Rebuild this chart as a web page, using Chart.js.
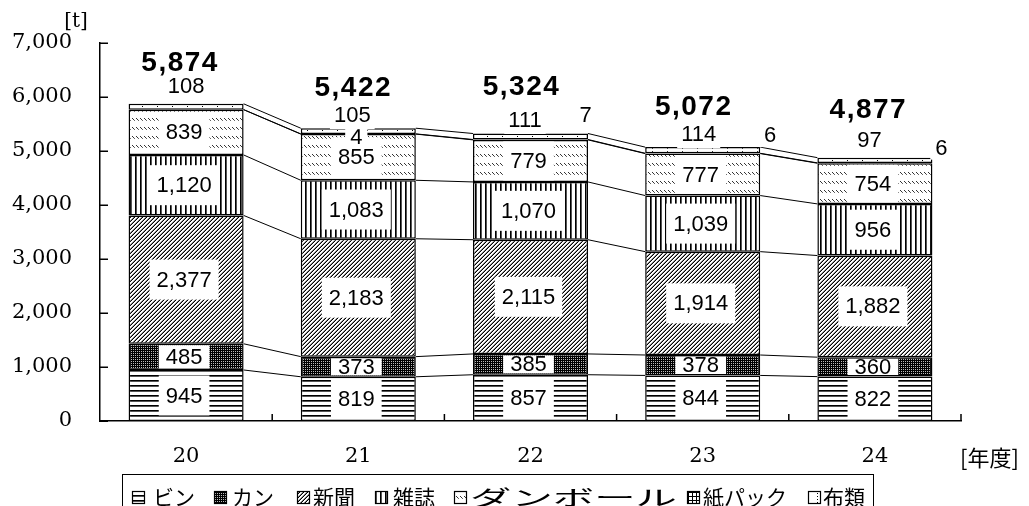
<!DOCTYPE html>
<html><head><meta charset="utf-8">
<script src="https://cdn.jsdelivr.net/npm/chart.js@4"></script>
<style>html,body{margin:0;padding:0;background:#fff}#wrap{width:1029px;height:506px;overflow:hidden}</style>
</head><body><div id="wrap"><canvas id="c" width="1029" height="506"></canvas></div>
<script>
// ---- data ----
const categories = ['20', '21', '22', '23', '24'];
const seriesNames = ['ビン', 'カン', '新聞', '雑誌', 'ダンボール', '紙パック', '布類'];
const bin      = [945, 819, 857, 844, 822];
const kan      = [485, 373, 385, 378, 360];
const shinbun  = [2377, 2183, 2115, 1914, 1882];
const zasshi   = [1120, 1083, 1070, 1039, 956];
const danboru  = [839, 855, 779, 777, 754];
const kamipack = [null, 4, 7, 6, 6];
const nurui    = [108, 105, 111, 114, 97];
const totals   = [5874, 5422, 5324, 5072, 4877];
const yTickValues = [0, 1000, 2000, 3000, 4000, 5000, 6000, 7000];
const seriesData = [bin, kan, shinbun, zasshi, danboru, kamipack, nurui];

// ---- style config (positions / nudges, not data) ----
const style = {
  innerDx: -2,
  topDx: [0, -6, -5.5, -4, -5.5],
  topDy: [-17.5, -13, -13.5, -13, -18],
  packPlace: [null, {mode: 'center', dx: -2, dy: 3}, {mode: 'right', dx: -2.5, dy: -18.5},
              {mode: 'right', dx: 10, dy: -12}, {mode: 'right', dx: 9, dy: -10}],
  totalDx: [-6, -5, -9, -9, -6.5],
  totalDy: [-41.5, -40.5, -47.5, -41, -48.5],
  legendIconX: [132, 214, 297, 375, 454, 687, 808],
  legendTextX: [153, 232, 313, 393, 470, 703, 823],
  legendTextW: [35, 38, 44, 44, 207, 94, 43]
};

const canvas = document.getElementById('c');
const mainCtx = canvas.getContext('2d');

function makePattern(w, h, draw) {
  const c = document.createElement('canvas');
  c.width = w; c.height = h;
  const g = c.getContext('2d');
  g.fillStyle = '#fff'; g.fillRect(0, 0, w, h);
  draw(g);
  return mainCtx.createPattern(c, 'repeat');
}
function px(g, x, y, col) { g.fillStyle = col; g.fillRect(x, y, 1, 1); }

const patterns = [
  // ビン: horizontal lines
  makePattern(1, 5, g => { px(g, 0, 0, '#000'); px(g, 0, 1, '#555'); }),
  // カン: dense dark grid
  makePattern(2, 2, g => { px(g, 0, 0, '#000'); px(g, 1, 0, '#000'); px(g, 0, 1, '#000'); px(g, 1, 1, '#bbb'); }),
  // 新聞: forward diagonal
  makePattern(4, 4, g => { for (let k = 0; k < 4; k++) { px(g, 3 - k, k, '#000'); px(g, (6 - k) % 4, k, '#888'); } }),
  // 雑誌: vertical lines
  makePattern(5, 1, g => { px(g, 0, 0, '#000'); px(g, 1, 0, '#555'); }),
  // ダンボール: short back-slash dashes
  makePattern(4, 9, g => { px(g, 0, 1, '#333'); px(g, 1, 2, '#333'); px(g, 2, 3, '#666'); }),
  // 紙パック: grid
  makePattern(4, 4, g => { for (let k = 0; k < 4; k++) { px(g, k, 0, '#000'); px(g, 0, k, '#000'); } }),
  // 布類: sparse dots
  makePattern(15, 3, g => { px(g, 7, 1, '#000'); })
];

const fmt = v => v.toLocaleString('en-US');
const LABEL_FONT = '22px "Liberation Sans", Arial, sans-serif';
const TOTAL_FONT = 'bold 28px "Liberation Sans", Arial, sans-serif';
const SERIF = '"DejaVu Serif", "Liberation Serif", serif';

function boxLabel(ctx, text, cx, cy, padX, boxH, clip) {
  ctx.save();
  ctx.font = LABEL_FONT;
  const w = ctx.measureText(text).width + padX * 2;
  if (clip) { ctx.beginPath(); ctx.rect(clip.l, clip.t, clip.r - clip.l, clip.b - clip.t); ctx.clip(); }
  ctx.fillStyle = '#fff';
  ctx.fillRect(cx - w / 2, cy - boxH / 2, w, boxH);
  ctx.restore();
  ctx.save();
  ctx.font = LABEL_FONT;
  ctx.fillStyle = '#000'; ctx.textAlign = 'center'; ctx.textBaseline = 'middle';
  ctx.fillText(text, cx, cy + 1);
  ctx.restore();
}

const overlay = {
  id: 'overlay',
  afterDatasetsDraw(chart) {
    const ctx = chart.ctx;
    const xs = chart.scales.x, ys = chart.scales.y;
    const n = categories.length;
    const cum = [];
    seriesData.forEach((arr, s) => { cum[s] = arr.map((v, i) => (s ? cum[s - 1][i] : 0) + (v || 0)); });
    const halfW = chart.getDatasetMeta(0).data[0].width / 2;
    const bw = 1.5;

    // series lines
    ctx.save();
    ctx.strokeStyle = '#000'; ctx.lineWidth = 1;
    ctx.beginPath();
    for (let s = 0; s < seriesData.length; s++) {
      for (let i = 0; i < n - 1; i++) {
        ctx.moveTo(xs.getPixelForValue(i) + halfW, ys.getPixelForValue(cum[s][i]));
        ctx.lineTo(xs.getPixelForValue(i + 1) - halfW, ys.getPixelForValue(cum[s][i + 1]));
      }
    }
    ctx.stroke();
    ctx.restore();

    // inner labels for first five series
    for (let s = 0; s < 5; s++) {
      for (let i = 0; i < n; i++) {
        const v = seriesData[s][i];
        if (v == null) continue;
        const base = s ? cum[s - 1][i] : 0;
        const cx = xs.getPixelForValue(i);
        const top = ys.getPixelForValue(cum[s][i]);
        const bot = ys.getPixelForValue(base);
        const cy = ys.getPixelForValue(base + v / 2);
        boxLabel(ctx, fmt(v), cx + style.innerDx, cy, 7, 40,
          {l: cx - halfW + bw, r: cx + halfW - bw, t: top + bw, b: bot - bw});
      }
    }
    // 紙パック labels
    for (let i = 0; i < n; i++) {
      const v = kamipack[i], p = style.packPlace[i];
      if (v == null || !p) continue;
      const cx = xs.getPixelForValue(i);
      let x, y;
      if (p.mode === 'center') {
        x = cx + p.dx; y = ys.getPixelForValue(cum[4][i] + v / 2) + p.dy;
      } else {
        x = cx + halfW + p.dx; y = ys.getPixelForValue(cum[6][i]) + p.dy;
      }
      boxLabel(ctx, fmt(v), x, y, 5, 24, null);
    }
    // 布類 labels above bars
    for (let i = 0; i < n; i++) {
      const v = nurui[i];
      const x = xs.getPixelForValue(i) + style.topDx[i];
      const y = ys.getPixelForValue(cum[6][i]) + style.topDy[i];
      boxLabel(ctx, fmt(v), x, y, 4, 28, null);
    }
    // totals
    ctx.save();
    ctx.font = TOTAL_FONT; ctx.fillStyle = '#000';
    ctx.textAlign = 'center'; ctx.textBaseline = 'middle';
    try { ctx.letterSpacing = '1.5px'; } catch (e) {}
    for (let i = 0; i < n; i++) {
      const x = xs.getPixelForValue(i) + style.totalDx[i];
      const y = ys.getPixelForValue(totals[i]) + style.totalDy[i];
      ctx.fillText(fmt(totals[i]), x, y + 1);
    }
    try { ctx.letterSpacing = '0px'; } catch (e) {}
    ctx.restore();
  },
  afterDraw(chart) {
    const ctx = chart.ctx;
    const xs = chart.scales.x, ys = chart.scales.y;
    const area = chart.chartArea;
    ctx.save();
    ctx.strokeStyle = '#000'; ctx.lineWidth = 1.5;
    ctx.beginPath();
    // y inner ticks
    yTickValues.forEach(v => {
      const yy = Math.round(ys.getPixelForValue(v)) + 0.25;
      ctx.moveTo(area.left, yy); ctx.lineTo(area.left + 8, yy);
    });
    // x inner ticks at category boundaries
    for (let i = 0; i < categories.length; i++) {
      const xx = (xs.getPixelForValue(i) + (i < categories.length - 1 ? xs.getPixelForValue(i + 1) : 2 * xs.getPixelForValue(i) - xs.getPixelForValue(i - 1))) / 2;
      ctx.moveTo(xx, area.bottom); ctx.lineTo(xx, area.bottom - 7);
    }
    ctx.stroke();
    ctx.restore();

    // unit labels
    ctx.save();
    ctx.fillStyle = '#000'; ctx.textBaseline = 'middle';
    ctx.font = '20px ' + SERIF; ctx.textAlign = 'center';
    ctx.fillText('[t]', 76, 22);
    ctx.textAlign = 'left';
    ctx.font = '22px "Noto Sans CJK JP", sans-serif';
    ctx.fillText('[年度]', 960, 458);
    ctx.restore();

    // legend
    ctx.save();
    ctx.strokeStyle = '#000'; ctx.lineWidth = 1;
    ctx.strokeRect(122.5, 474.5, 751, 60);
    ctx.font = '21px "Noto Sans CJK JP", sans-serif';
    ctx.textBaseline = 'middle'; ctx.textAlign = 'left';
    seriesNames.forEach((name, s) => {
      const ix = style.legendIconX[s];
      ctx.fillStyle = patterns[s];
      ctx.fillRect(ix, 491, 13, 13);
      ctx.lineWidth = 1.2; ctx.strokeStyle = '#000';
      ctx.strokeRect(ix + 0.5, 491.5, 12, 12);
      ctx.fillStyle = '#000';
      const natural = ctx.measureText(name).width;
      const target = style.legendTextW[s];
      const sx = target > natural * 1.15 ? target / natural : 1;
      ctx.save();
      ctx.translate(style.legendTextX[s], 497);
      ctx.scale(sx, 1);
      ctx.fillText(name, 0, 0);
      ctx.restore();
    });
    ctx.restore();
  }
};

new Chart(mainCtx, {
  type: 'bar',
  data: {
    labels: categories,
    datasets: seriesNames.map((name, s) => ({
      label: name,
      data: seriesData[s],
      backgroundColor: patterns[s],
      borderColor: '#000',
      borderWidth: 1.5,
      borderSkipped: false,
      categoryPercentage: 1,
      barPercentage: 0.668
    }))
  },
  options: {
    responsive: false,
    animation: false,
    devicePixelRatio: 1,
    layout: {padding: {left: 0, right: 68, top: 43, bottom: 0}},
    plugins: {legend: {display: false}, tooltip: {enabled: false}},
    scales: {
      x: {
        stacked: true,
        grid: {display: false},
        border: {display: true, color: '#000', width: 1.5},
        ticks: {font: {family: SERIF, size: 21}, color: '#000', padding: 15, maxRotation: 0},
        afterFit(scale) { scale.height = 85; }
      },
      y: {
        stacked: true,
        min: 0, max: 7000,
        grid: {display: false},
        border: {display: true, color: '#000', width: 1.5},
        ticks: {stepSize: 1000, font: {family: SERIF, size: 21}, color: '#000', padding: 20,
                callback: v => fmt(v)},
        afterFit(scale) { scale.width = 100; }
      }
    }
  },
  plugins: [overlay]
});
</script>
</body></html>
